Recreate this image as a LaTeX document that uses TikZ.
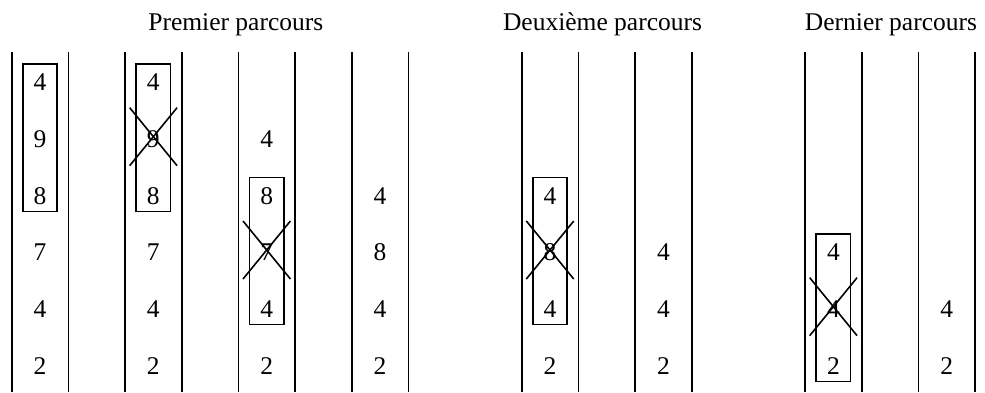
\documentclass[tikz,border=0pt]{standalone}
\usepackage{fontspec}
\setmainfont{Liberation Serif}
\begin{document}
\begin{tikzpicture}[x=1pt,y=-1pt,
  wall/.style={line width=1.6pt},
  frame/.style={line width=1.5pt},
  strike/.style={line width=1.6pt},
  num/.style={font=\fontsize{25.5}{30}\selectfont, inner sep=0pt},
  ttl/.style={font=\fontsize{25.5}{30}\selectfont, inner sep=0pt, anchor=base}]
\useasboundingbox (0,0) rectangle (985,392);
\def\u{56.667}
% titles
\node[ttl] (t1) at (235.8,30.7) {Premier parcours};
\node[ttl] (t2) at (602.5,30.7) {Deuxième parcours};
\node[ttl] (t3) at (891,30.7) {Dernier parcours};
% walls
\foreach \i in {0,1,2,3,4,5,6,7,9,10,11,12,14,15,16,17}
  \draw[wall] (11.7+\u*\i,52) -- (11.7+\u*\i,392);
% numbers
\foreach \a/\nm/\cells in {
  0/A/{0/4,1/9,2/8,3/7,4/4,5/2},
  2/B/{0/4,1/9,2/8,3/7,4/4,5/2},
  4/C/{1/4,2/8,3/7,4/4,5/2},
  6/D/{2/4,3/8,4/4,5/2},
  9/E/{2/4,3/8,4/4,5/2},
  11/F/{3/4,4/4,5/2},
  14/G/{3/4,4/4,5/2},
  16/H/{4/4,5/2}}
{
  \foreach \r/\v in \cells
    \node[num] (n\nm r\r) at (11.7+\u*\a+\u/2, 82.5+\u*\r) {\v};
}
% boxes
\foreach \nm/\top/\bot in {A/0/2, B/0/2, C/2/4, E/2/4, G/3/5}
  \draw[frame] ([xshift=-17.2pt,yshift=18.5pt]n\nm r\top.center) rectangle
               ([xshift=17.2pt,yshift=-15.5pt]n\nm r\bot.center);
% crosses
\foreach \nm/\r in {B/1, C/3, E/3, G/4}{
  \draw[strike] ([shift={(-23.7pt,31.5pt)}]n\nm r\r.center) -- ([shift={(23.7pt,-26.5pt)}]n\nm r\r.center);
  \draw[strike] ([shift={(-23.7pt,-26.5pt)}]n\nm r\r.center) -- ([shift={(23.7pt,31.5pt)}]n\nm r\r.center);
}
\end{tikzpicture}
\end{document}
